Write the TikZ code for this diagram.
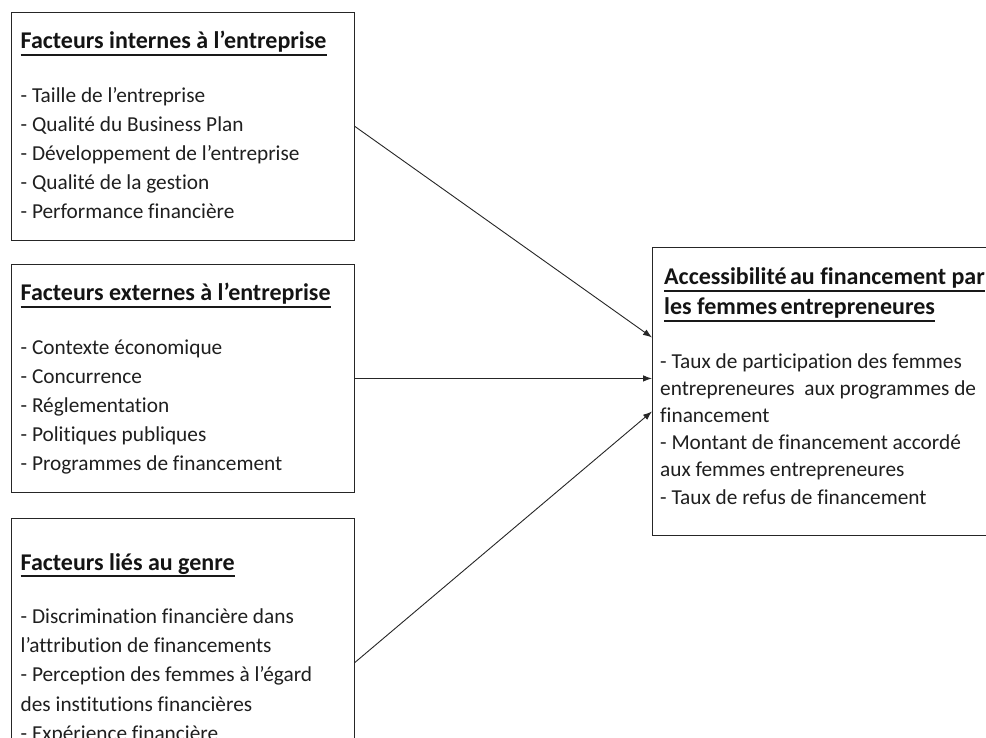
\documentclass[tikz,border=0pt]{standalone}
\usepackage{fontspec}
\setmainfont{Carlito}[Ligatures=NoCommon]
\usetikzlibrary{arrows.meta}
\tikzset{
  boxshape/.style={draw=black!85, line width=0.9pt, rectangle, inner sep=0pt, anchor=north west},
  itemtxt/.style={anchor=base west, inner sep=0pt, text=black!88, font=\fontsize{21.3}{26}\selectfont},
  titletxt/.style={anchor=base west, inner sep=0pt, text=black!92, font=\bfseries\fontsize{24}{28}\selectfont},
  ulstyle/.style={line width=1.4pt, black!90},
  arr/.style={draw=black!85, line width=0.9pt, -{Latex[length=9pt,width=6.5pt]}}
}
\begin{document}
\begin{tikzpicture}[x=1pt,y=-1pt]
\useasboundingbox (0,0) rectangle (986,738);
\clip (0,0) rectangle (986,738);
\fill[white] (0,0) rectangle (986,738);

% boxes
\node[boxshape, minimum width=343pt, minimum height=228pt] (b1) at (11,12) {};
\node[boxshape, minimum width=343pt, minimum height=228pt] (b2) at (11,264) {};
\node[boxshape, minimum width=343pt, minimum height=288pt] (b3) at (11,518) {};
\node[boxshape, minimum width=350pt, minimum height=288pt] (rb) at (652,247) {};

% box 1
\node[titletxt] (t1) at (20.5,49) {Facteurs internes à l’entreprise};
\draw[ulstyle] ([yshift=-6pt]t1.base west) -- ([yshift=-6pt]t1.base east);
\foreach \txt [count=\i] in {%
  - Taille de l’entreprise,
  - Qualité du Business Plan,
  - Développement de l’entreprise,
  - Qualité de la gestion,
  - Performance financière}
  \node[itemtxt, name=b1i\i] at (20.5,{103+28.9*(\i-1)}) {\txt};

% box 2
\node[titletxt] (t2) at (20.5,301) {Facteurs externes à l’entreprise};
\draw[ulstyle] ([yshift=-6pt]t2.base west) -- ([yshift=-6pt]t2.base east);
\foreach \txt [count=\i] in {%
  - Contexte économique,
  - Concurrence,
  - Réglementation,
  - Politiques publiques,
  - Programmes de financement}
  \node[itemtxt, name=b2i\i] at (20.5,{355+28.9*(\i-1)}) {\txt};

% box 3
\node[titletxt] (t3) at (20.5,570) {Facteurs liés au genre};
\draw[ulstyle] ([yshift=-6pt]t3.base west) -- ([yshift=-6pt]t3.base east);
\foreach \txt [count=\i] in {%
  - Discrimination financière dans,
  l’attribution de financements,
  - Perception des femmes à l’égard,
  des institutions financières,
  - Expérience financière}
  \node[itemtxt, name=b3i\i] at (20.5,{623+29.4*(\i-1)}) {\txt};

% right box
\node[titletxt] (r1) at (664,285) {Accessibilité\hspace{3.5pt}au financement par};
\draw[ulstyle] ([yshift=-6pt]r1.base west) -- ([yshift=-6pt]r1.base east);
\node[titletxt] (r2) at (664,315) {les femmes\hspace{3.5pt}entrepreneures};
\draw[ulstyle] ([yshift=-6pt]r2.base west) -- ([yshift=-6pt]r2.base east);
\foreach \txt [count=\i] in {%
  - Taux de participation des femmes,
  entrepreneures\ \ aux programmes de,
  financement,
  - Montant de financement accordé,
  aux femmes entrepreneures,
  - Taux de refus de financement}
  \node[itemtxt, name=ri\i] at (660,{368+27.2*(\i-1)}) {\txt};

% connectors
\draw[arr] (b1.east) -- ([yshift=54pt]rb.west);
\draw[arr] (b2.east) -- ([yshift=13pt]rb.west);
\draw[arr] (b3.east) -- ([yshift=-20pt]rb.west);
\end{tikzpicture}
\end{document}
